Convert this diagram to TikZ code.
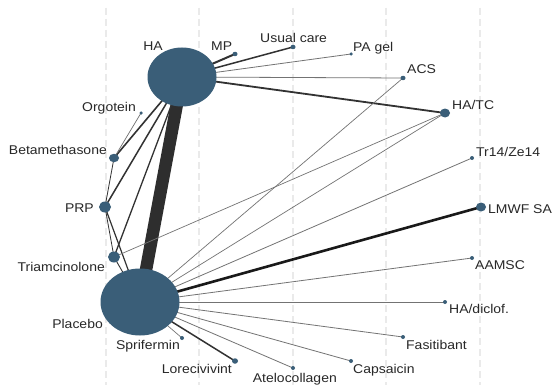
\documentclass[tikz,border=0pt]{standalone}
\usepackage{fontspec}
\setmainfont{Liberation Sans}[FakeStretch=1.1]
\usetikzlibrary{shapes.geometric}
\pgfdeclarelayer{grid}
\pgfdeclarelayer{bg}
\pgfsetlayers{grid,bg,main}
\definecolor{nodeblue}{RGB}{58,94,120}
\definecolor{txt}{RGB}{40,40,40}
\definecolor{gridc}{RGB}{234,234,234}
\definecolor{thinc}{RGB}{115,115,115}
\definecolor{darkc}{RGB}{50,50,50}
\tikzset{
  tnode/.style={ellipse, fill=nodeblue, draw=none, inner sep=0pt},
  lab/.style={inner sep=0pt, text=txt, font=\fontsize{12.7}{14}\selectfont},
  thin edge/.style={draw=thinc, line width=0.8pt},
  dark edge/.style={draw=darkc},
  gridline/.style={draw=gridc, line width=1.3pt, dash pattern=on 7pt off 4pt},
}
\begin{document}
\begin{tikzpicture}[x=1pt,y=-1pt]
\useasboundingbox (0,0) rectangle (553,385);
% nodes
\node[tnode, minimum width=69pt, minimum height=59pt] (HA) at (182,77) {};
\node[tnode, minimum width=79pt, minimum height=67pt] (PL) at (140,302) {};
\node[tnode, minimum width=5pt, minimum height=4.5pt] (MP) at (235,54) {};
\node[tnode, minimum width=5pt, minimum height=4.5pt] (UC) at (293,47) {};
\node[tnode, minimum width=3.5pt, minimum height=3.5pt] (PAG) at (351,54) {};
\node[tnode, minimum width=5pt, minimum height=4.5pt] (ACS) at (403,78) {};
\node[tnode, minimum width=10pt, minimum height=9pt] (HATC) at (445,113) {};
\node[tnode, minimum width=4pt, minimum height=4pt] (TR) at (472,158) {};
\node[tnode, minimum width=10pt, minimum height=9pt] (LMWF) at (481,207) {};
\node[tnode, minimum width=4pt, minimum height=4pt] (AAM) at (472,258) {};
\node[tnode, minimum width=4pt, minimum height=4pt] (HAD) at (445,302) {};
\node[tnode, minimum width=4pt, minimum height=4pt] (FAS) at (403,337) {};
\node[tnode, minimum width=4pt, minimum height=4pt] (CAP) at (351,361) {};
\node[tnode, minimum width=4pt, minimum height=4pt] (ATE) at (293,368) {};
\node[tnode, minimum width=6pt, minimum height=5.5pt] (LOR) at (235,361) {};
\node[tnode, minimum width=4pt, minimum height=4pt] (SPR) at (182,338) {};
\node[tnode, minimum width=3.5pt, minimum height=3.5pt] (ORG) at (141,113) {};
\node[tnode, minimum width=10pt, minimum height=8.5pt] (BET) at (114,158) {};
\node[tnode, minimum width=12pt, minimum height=11pt] (PRP) at (105,207) {};
\node[tnode, minimum width=12pt, minimum height=11pt] (TRI) at (114,257) {};
% labels
\node[lab, anchor=base east] (lHA) at (163,51) {HA};
\node[lab, anchor=base west] (lMP) at (211,51) {MP};
\node[lab, anchor=base west] (lUC) at (260,43) {Usual care};
\node[lab, anchor=base west] (lPAG) at (353,52) {PA gel};
\node[lab, anchor=base west] (lACS) at (407,74) {ACS};
\node[lab, anchor=base west] (lHATC) at (452,110) {HA/TC};
\node[lab, anchor=base west] (lTR) at (476,156) {Tr14/Ze14};
\node[lab, anchor=base west] (lLMWF) at (488,213) {LMWF SA};
\node[lab, anchor=base west] (lAAM) at (475,269) {AAMSC};
\node[lab, anchor=base west] (lHAD) at (449,313) {HA/diclof.};
\node[lab, anchor=base west] (lFAS) at (406,349) {Fasitibant};
\node[lab, anchor=base west] (lCAP) at (353,373) {Capsaicin};
\node[lab, anchor=base east] (lATE) at (337,382) {Atelocollagen};
\node[lab, anchor=base east] (lLOR) at (232,373) {Lorecivivint};
\node[lab, anchor=base east] (lSPR) at (180,349) {Sprifermin};
\node[lab, anchor=base east] (lPL) at (103,328) {Placebo};
\node[lab, anchor=base east] (lTRI) at (105,271) {Triamcinolone};
\node[lab, anchor=base east] (lPRP) at (94,212) {PRP};
\node[lab, anchor=base east] (lBET) at (107,154) {Betamethasone};
\node[lab, anchor=base east] (lORG) at (136,111) {Orgotein};
% background and grid
\begin{pgfonlayer}{grid}
\fill[white] (0,0) rectangle (553,385);
\foreach \gx in {106,199,293,386,480} {
  \coordinate (gt\gx) at (\gx,8);
  \coordinate (gb\gx) at (\gx,385);
  \draw[gridline] (gt\gx) -- (gb\gx);
}
\end{pgfonlayer}
% edges
\begin{pgfonlayer}{bg}
\draw[draw=black!82, line width=12.5pt] (HA.center) -- (PL.center);
\draw[dark edge, line width=2pt] (HA.center) -- (MP.center);
\draw[dark edge, line width=1.5pt] (HA.center) -- (UC.center);
\draw[thin edge] (HA.center) -- (PAG.center);
\draw[thin edge] (HA.center) -- (ACS.center);
\draw[dark edge, line width=1.8pt] (HA.center) -- (HATC.center);
\draw[dark edge, line width=1.6pt] (HA.center) -- (BET.center);
\draw[dark edge, line width=1.5pt] (HA.center) -- (PRP.center);
\draw[dark edge, line width=1.3pt] (HA.center) -- (TRI.center);
\draw[thin edge, line width=0.7pt] (ORG.center) -- (BET.center);
\draw[dark edge, line width=0.8pt] (BET.center) -- (PRP.center);
\draw[dark edge, line width=0.8pt] (PRP.center) -- (TRI.center);
\draw[dark edge, line width=1.2pt] (PRP.center) -- (PL.center);
\draw[dark edge, line width=0.9pt] (TRI.center) -- (PL.center);
\draw[thin edge, line width=0.7pt] (TRI.center) -- (HATC.center);
\draw[thin edge, line width=0.7pt] (PL.center) -- (ACS.center);
\draw[thin edge, line width=0.7pt] (PL.center) -- (HATC.center);
\draw[thin edge] (PL.center) -- (TR.center);
\draw[draw=black!90, line width=2.6pt] (PL.center) -- (LMWF.center);
\draw[thin edge] (PL.center) -- (AAM.center);
\draw[thin edge] (PL.center) -- (HAD.center);
\draw[thin edge] (PL.center) -- (FAS.center);
\draw[thin edge] (PL.center) -- (CAP.center);
\draw[thin edge] (PL.center) -- (ATE.center);
\draw[dark edge, line width=1.5pt] (PL.center) -- (LOR.center);
\draw[thin edge, line width=0.7pt] (PL.center) -- (SPR.center);
\end{pgfonlayer}
\end{tikzpicture}
\end{document}
